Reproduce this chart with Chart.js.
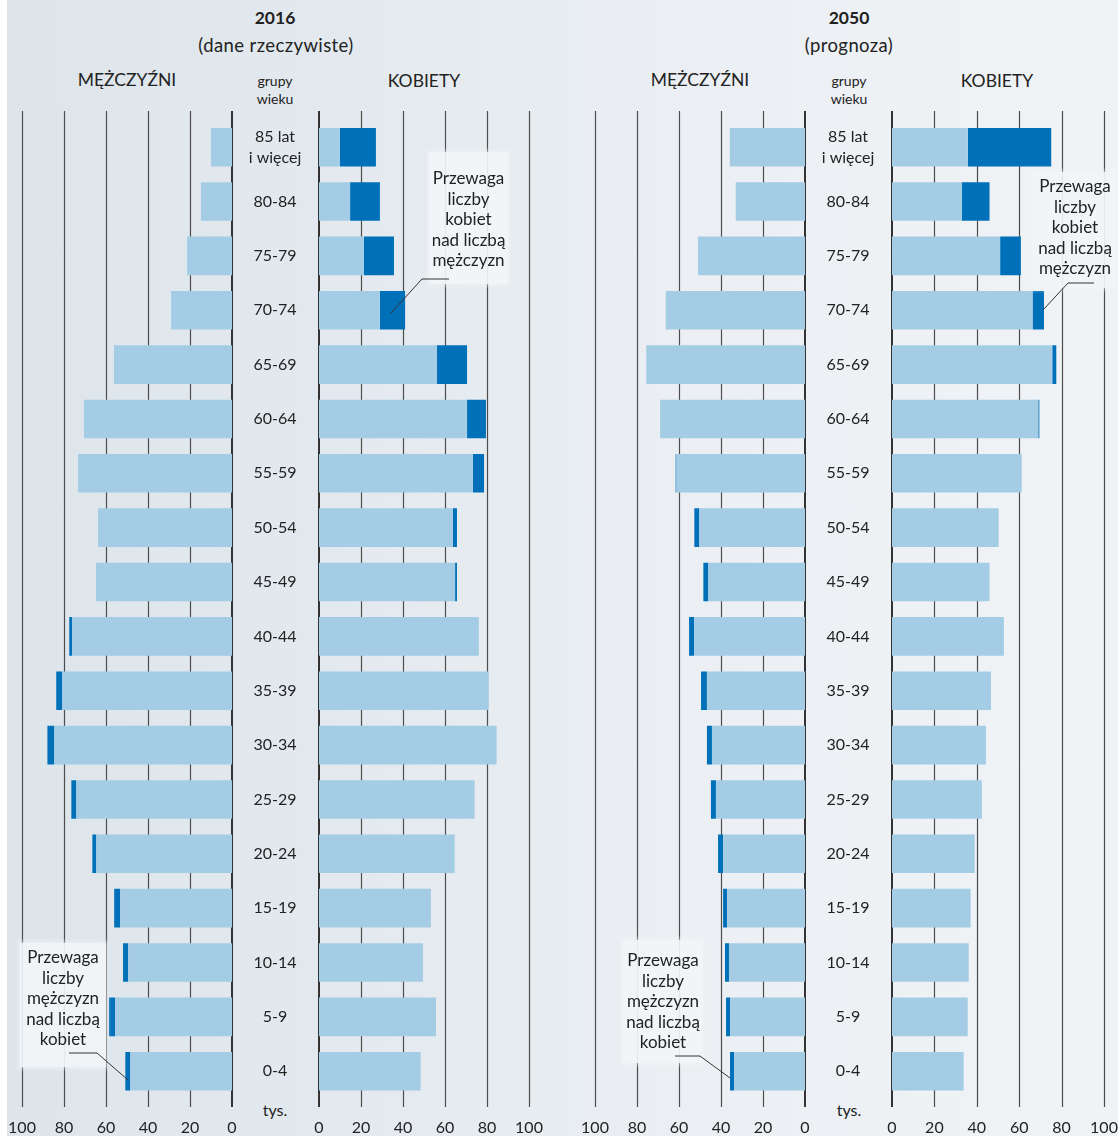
<!DOCTYPE html>
<html lang="pl">
<head>
<meta charset="utf-8">
<script src="https://cdn.jsdelivr.net/npm/chart.js@4.4.1/dist/chart.umd.min.js"></script>
<style>
  body { margin: 0; width: 1118px; height: 1136px; overflow: hidden; background: #fff; font-family: Lato, sans-serif; color: #222; }
  #bg { position: absolute; left: 7px; top: 0; width: 1111px; height: 1136px;
        background: linear-gradient(90deg, #dde5eb 0%, #e4eaef 35%, #ebeff3 60%, #f0f3f6 100%); }
  canvas { position: absolute; }
  .t { position: absolute; transform: translate(-50%, -50%); white-space: nowrap; line-height: 1; }
  .big { font-size: 17.5px; }
  .sub { font-size: 18.5px; letter-spacing: 0.4px; }
  .small { font-size: 14px; }
  .note { position: absolute; box-sizing: border-box; text-align: center; font-size: 17px; line-height: 20.5px;
          background: rgba(242, 245, 247, 0.92); box-shadow: 0 0 4px 2px rgba(242, 245, 247, 0.6); }
  svg { position: absolute; left: 0; top: 0; }
</style>
</head>
<body>
<div id="bg"></div>

<div class="t big" style="left:275px;top:18px;font-weight:bold">2016</div>
<div class="t sub" style="left:276px;top:45px">(dane rzeczywiste)</div>
<div class="t big" style="left:127px;top:80px">MĘŻCZYŹNI</div>
<div class="t big" style="left:424px;top:81px">KOBIETY</div>
<div class="t small" style="left:275px;top:81px">grupy</div>
<div class="t small" style="left:275px;top:99px">wieku</div>
<div class="t" style="left:275px;top:1110px;font-size:16px">tys.</div>

<div class="t big" style="left:849px;top:18px;font-weight:bold">2050</div>
<div class="t sub" style="left:849px;top:45px">(prognoza)</div>
<div class="t big" style="left:700px;top:80px">MĘŻCZYŹNI</div>
<div class="t big" style="left:997px;top:81px">KOBIETY</div>
<div class="t small" style="left:849px;top:81px">grupy</div>
<div class="t small" style="left:849px;top:99px">wieku</div>
<div class="t" style="left:849px;top:1110px;font-size:16px">tys.</div>

<canvas id="m16" width="250" height="1040" style="left:0;top:100px"></canvas>
<canvas id="w16" width="318" height="1040" style="left:232px;top:100px"></canvas>
<canvas id="m50" width="260" height="1040" style="left:560px;top:100px"></canvas>
<canvas id="w50" width="313" height="1040" style="left:805px;top:100px"></canvas>

<div class="note" style="left:429px;top:152px;width:79px;height:132px;padding-top:16px">Przewaga<br>liczby<br>kobiet<br>nad liczbą<br>mężczyzn</div>
<div class="note" style="left:1032px;top:172px;width:86px;height:116px;padding-top:4px">Przewaga<br>liczby<br>kobiet<br>nad liczbą<br>mężczyzn</div>
<div class="note" style="left:20px;top:943px;width:86px;height:124px;padding-top:4px">Przewaga<br>liczby<br>mężczyzn<br>nad liczbą<br>kobiet</div>
<div class="note" style="left:623px;top:940px;width:80px;height:123px;padding-top:10px">Przewaga<br>liczby<br>mężczyzn<br>nad liczbą<br>kobiet</div>

<svg width="1118" height="1136">
  <g fill="none" stroke="#333" stroke-width="1">
    <polyline points="449,279 422,279 391,313"/>
    <polyline points="1094,283 1068,283 1043,310"/>
    <polyline points="69,1053 97,1053 128,1080"/>
    <polyline points="675,1056 700,1056 730,1078"/>
  </g>
</svg>

<script>
const ageGroups = [["85 lat", "i więcej"], "80-84", "75-79", "70-74", "65-69", "60-64", "55-59", "50-54", "45-49",
  "40-44", "35-39", "30-34", "25-29", "20-24", "15-19", "10-14", "5-9", "0-4"];

// tys. osób
const men2016 = [10, 14.8, 21.4, 29, 56.2, 70.5, 73.3, 63.8, 64.8, 77.5, 83.7, 87.9, 76.5, 66.5, 56.1, 51.9, 58.6, 50.8];
const women2016 = [27.1, 29, 35.7, 41, 70.5, 79.5, 78.6, 65.7, 65.7, 76.1, 80.8, 84.6, 74.1, 64.6, 53.3, 49.5, 55.7, 48.4];
const men2050 = [35.8, 33, 51, 66.3, 75.6, 69, 61.6, 52.7, 48.4, 55.2, 49.5, 46.7, 44.8, 41.4, 39, 38.1, 37.6, 35.7];
const women2050 = [75.1, 46, 60.8, 71.7, 77.5, 69.5, 61.2, 50.3, 46, 52.8, 46.7, 44.3, 42.4, 39, 37.1, 36.2, 35.7, 33.8];

const axisMin = 0, axisMax = 100, axisStep = 20;

const lightBlue = "#a5cce5";
const darkBlue = "#0071b9";
const font = "Lato";

Chart.defaults.font.family = font;
Chart.defaults.color = "#222";

// vertical lines run a bit above and below the bars
const gridLines = {
  id: "gridLines",
  beforeDatasetsDraw(chart) {
    const ctx = chart.ctx;
    const x = chart.scales.x;
    ctx.save();
    x.ticks.forEach(t => {
      const zero = t.value === 0;
      const p = x.getPixelForValue(t.value);
      const px = zero ? Math.round(p) : Math.round(p) + 0.5;
      ctx.beginPath();
      ctx.lineWidth = zero ? 2 : 1.2;
      ctx.strokeStyle = zero ? "#333" : "#4d4d4d";
      ctx.moveTo(px, 11);
      ctx.lineTo(px, 1007);
      ctx.stroke();
    });
    ctx.restore();
  }
};

function widestLabel() {
  const c = document.createElement("canvas").getContext("2d");
  c.font = "16px " + font;
  let w = 0;
  ageGroups.flat().forEach(s => { w = Math.max(w, c.measureText(s).width); });
  return w;
}
// gap between label block and zero line so labels sit mid-column
const labelGap = 44 - widestLabel() / 2;

function drawSide(id, own, other, isMen, padLeft, padRight) {
  const light = own.map((v, i) => Math.min(v, other[i]));
  const dark = own.map((v, i) => Math.max(0, v - other[i]));

  const yAxis = {
    stacked: true,
    display: !isMen,
    // tickLength (not padding) makes the gap, padding would also push the plot down
    grid: { display: false, drawTicks: true, tickLength: labelGap },
    border: { display: false },
    ticks: {
      crossAlign: "center",
      padding: 0,
      font: { size: 16, lineHeight: 1.3 },
      color: "#222"
    }
  };
  if (!isMen) yAxis.afterFit = s => { s.width = 87; };

  new Chart(document.getElementById(id), {
    type: "bar",
    data: {
      labels: ageGroups,
      datasets: [
        { data: light, backgroundColor: lightBlue },
        { data: dark, backgroundColor: darkBlue }
      ]
    },
    options: {
      indexAxis: "y",
      responsive: false,
      animation: false,
      events: [],
      layout: { autoPadding: false, padding: { left: padLeft, right: padRight, top: 20, bottom: 3 } },
      datasets: { bar: { categoryPercentage: 1, barPercentage: 0.71, borderWidth: 0 } },
      plugins: { legend: { display: false }, tooltip: { enabled: false } },
      scales: {
        x: {
          stacked: true,
          reverse: isMen,
          min: axisMin,
          max: axisMax,
          // tick marks are not drawn, tickLength only pushes the labels down
          grid: { display: false, drawTicks: true, tickLength: 19.4 },
          border: { display: false },
          ticks: { stepSize: axisStep, padding: 0, maxRotation: 0, font: { size: 16 }, color: "#222" }
        },
        y: yAxis
      }
    },
    plugins: [gridLines]
  });
}

drawSide("m16", men2016, women2016, true, 22, 18);
drawSide("w16", women2016, men2016, false, 0, 21);
drawSide("m50", men2050, women2050, true, 35, 15);
drawSide("w50", women2050, men2050, false, 0, 14);
</script>
</body>
</html>
